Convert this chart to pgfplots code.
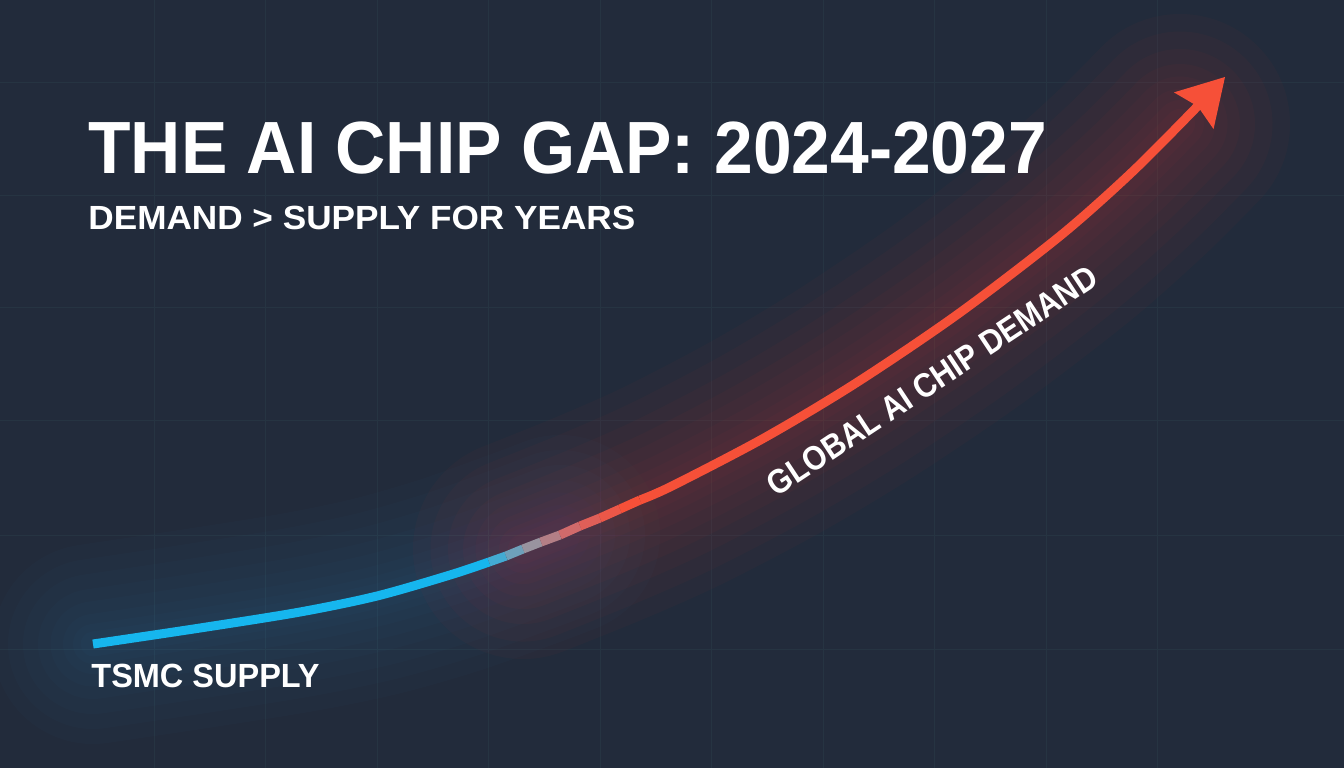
\documentclass[border=0pt]{standalone}
\usepackage{pgfplots}
\pgfplotsset{compat=1.18}
\usepackage{pgfplotstable}
\usepackage{fontspec}
\setmainfont{Liberation Sans}
\usetikzlibrary{arrows.meta}
\definecolor{bg}{RGB}{34,43,59}
\definecolor{gridc}{RGB}{38,52,66}
\definecolor{supblue}{RGB}{22,182,238}
\definecolor{demred}{RGB}{246,80,56}
\definecolor{glowblue}{RGB}{40,120,170}
\definecolor{glowred}{RGB}{210,50,55}

\pgfplotstableread{
x y
93 644
200 628
300 612
377 596
450 575
489 562
}\supply
\pgfplotstableread{
x y
489 562
506 556
523 549
541 542
560 535
580 526
600 518
620 509
640 500
}\transition
\pgfplotstableread{
x y
640 500
672 486
764 438
856 383
958 314
1060 236
1130 174
1190 114
1225 77
}\demand
\pgfplotstableread{
x y
93 644
200 628
300 612
377 596
450 575
523 549
560 535
}\glowsupply
\pgfplotstableread{
x y
523 549
600 518
672 486
764 438
856 383
958 314
1060 236
1130 174
1180 124
}\glowdemand

\begin{document}
\begin{tikzpicture}
\begin{axis}[
  width=672pt, height=384pt, scale only axis,
  xmin=0, xmax=1344, ymin=0, ymax=768, y dir=reverse,
  axis background/.style={fill=bg},
  axis line style={draw=none},
  tick style={draw=none},
  xtick={154,265.5,377,488.5,600,711.5,823,934.5,1046,1157.5},
  ytick={82,195,307,420,535,649},
  xticklabels={}, yticklabels={},
  grid=major, grid style={gridc, line width=0.5pt},
  colormap={gap}{rgb255(0pt)=(22,182,238) rgb255(50pt)=(150,150,162) rgb255(95pt)=(215,100,100) rgb255(150pt)=(246,80,56) rgb255(170pt)=(246,80,56)},
]
% glows
\pgfplotsinvokeforeach{200,170,140,110,85,60,40,25}{
  \addplot[glowblue, opacity=0.035, line width=#1*0.5pt, line cap=round, smooth, no marks] table {\glowsupply};
}
\pgfplotsinvokeforeach{220,185,150,120,95,70,48,30}{
  \addplot[glowred, opacity=0.04, line width=#1*0.5pt, line cap=round, smooth, no marks] table {\glowdemand};
}
% the curve
\addplot[supblue, line width=4.5pt, smooth, no marks] table {\supply};
\addplot[mesh, point meta=x, point meta min=480, point meta max=650, line width=4.5pt, no marks] table {\transition};
\addplot[demred, line width=4.5pt, smooth, no marks, -{Stealth[length=23pt, width=27pt, inset=3pt, line width=0pt 0]}] table {\demand};

% texts
\node[anchor=base west, inner sep=0pt, text=white, font=\fontsize{37pt}{40pt}\selectfont\bfseries] at (axis cs:88,173) {\scalebox{0.94}[1]{THE AI CHIP GAP: 2024-2027}};
\node[anchor=base west, inner sep=0pt, text=white, font=\fontsize{16.75pt}{19pt}\selectfont\bfseries] at (axis cs:88,229) {\scalebox{1.05}[1]{DEMAND > SUPPLY FOR YEARS}};
\node[anchor=base west, inner sep=0pt, text=white, font=\fontsize{16.75pt}{19pt}\selectfont\bfseries] at (axis cs:91,687) {\scalebox{0.97}[1]{TSMC SUPPLY}};
\node[anchor=center, inner sep=0pt, text=white, rotate=33.5, font=\fontsize{17pt}{19pt}\selectfont\bfseries] at (axis cs:932,381) {\scalebox{0.89}[1]{GLOBAL AI CHIP DEMAND}};
\end{axis}
\pgfresetboundingbox
\path[use as bounding box] (current axis.south west) rectangle (current axis.north east);
\end{tikzpicture}
\end{document}
